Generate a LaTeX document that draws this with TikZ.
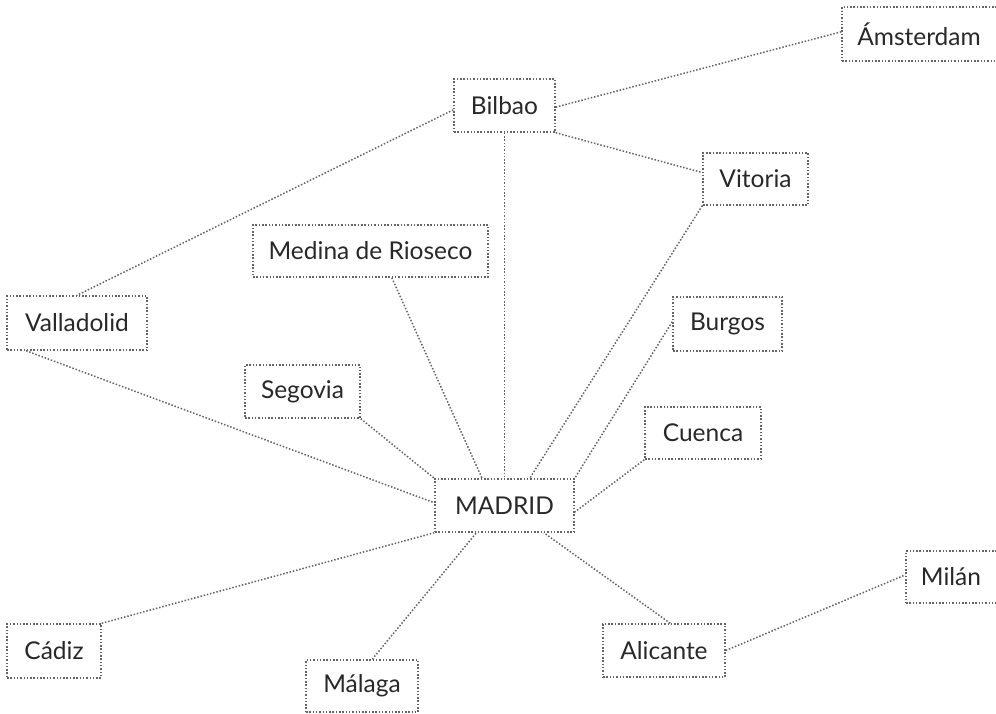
\documentclass[tikz,border=0pt]{standalone}
\usepackage{fontspec}
\setmainfont{Lato}
\usetikzlibrary{calc}
\definecolor{txt}{RGB}{40,40,40}
\definecolor{dot}{RGB}{100,100,100}
\begin{document}
\begin{tikzpicture}[x=1pt,y=-1pt,
  city/.style={draw=dot, line width=1.5pt, dash pattern=on 1.5pt off 1.8pt,
    inner sep=0pt, text=txt, font=\fontsize{24.5}{28}\selectfont, anchor=center},
  link/.style={draw=dot, line width=1.5pt, dash pattern=on 1.5pt off 1.8pt}]
\clip (0,0) rectangle (996,713);
\useasboundingbox (0,0) rectangle (996,713);
% nodes
\node[city, minimum width=156pt, minimum height=54pt] (ams) at (920,34) {\hspace*{-2pt}Ámsterdam};
\node[city, minimum width=101pt, minimum height=53pt] (bil) at (504.5,105.5) {Bilbao};
\node[city, minimum width=105pt, minimum height=52pt] (vit) at (755.5,179) {Vitoria};
\node[city, minimum width=235pt, minimum height=52pt] (med) at (370.5,251) {Medina de Rioseco};
\node[city, minimum width=140pt, minimum height=54pt] (val) at (77,323) {Valladolid};
\node[city, minimum width=109pt, minimum height=54pt] (bur) at (727.5,324) {Burgos};
\node[city, minimum width=115pt, minimum height=53pt] (seg) at (302.5,391.5) {Segovia};
\node[city, minimum width=116pt, minimum height=52pt] (cue) at (703,433) {Cuenca};
\node[city, minimum width=139pt, minimum height=53pt] (mad) at (504.5,505.5) {MADRID};
\node[city, minimum width=94pt, minimum height=54pt] (cad) at (54,651) {Cádiz};
\node[city, minimum width=112pt, minimum height=52pt] (mal) at (362,686) {Málaga};
\node[city, minimum width=122pt, minimum height=53pt] (ali) at (664,650.5) {Alicante};
\node[city, minimum width=92pt, minimum height=52pt] (mil) at (952,577) {\hspace*{-2pt}Milán};
% connectors
\draw[link] ($(bil.north east)!0.53!(bil.south east)$) -- ($(ams.north west)!0.46!(ams.south west)$);
\draw[link] ($(bil.north west)!0.58!(bil.south west)$) -- (val.north);
\draw[link] (bil.south east) -- ($(vit.north west)!0.38!(vit.south west)$);
\draw[link] (bil.south) -- (mad.north);
\draw[link] ($(med.south west)!0.59!(med.south east)$) -- ($(mad.north west)!0.34!(mad.north east)$);
\draw[link] ($(val.south west)!0.14!(val.south east)$) -- ($(mad.north west)!0.45!(mad.south west)$);
\draw[link] (seg.south east) -- (mad.north west);
\draw[link] (vit.south west) -- ($(mad.north west)!0.68!(mad.north east)$);
\draw[link] ($(bur.north west)!0.46!(bur.south west)$) -- (mad.north east);
\draw[link] (cue.south west) -- ($(mad.north east)!0.62!(mad.south east)$);
\draw[link] (cad.north east) -- (mad.south west);
\draw[link] ($(mal.north west)!0.59!(mal.north east)$) -- ($(mad.south west)!0.30!(mad.south east)$);
\draw[link] ($(ali.north west)!0.55!(ali.north east)$) -- ($(mad.south west)!0.78!(mad.south east)$);
\draw[link] (ali.east) -- ($(mil.north west)!0.46!(mil.south west)$);
\end{tikzpicture}
\end{document}
